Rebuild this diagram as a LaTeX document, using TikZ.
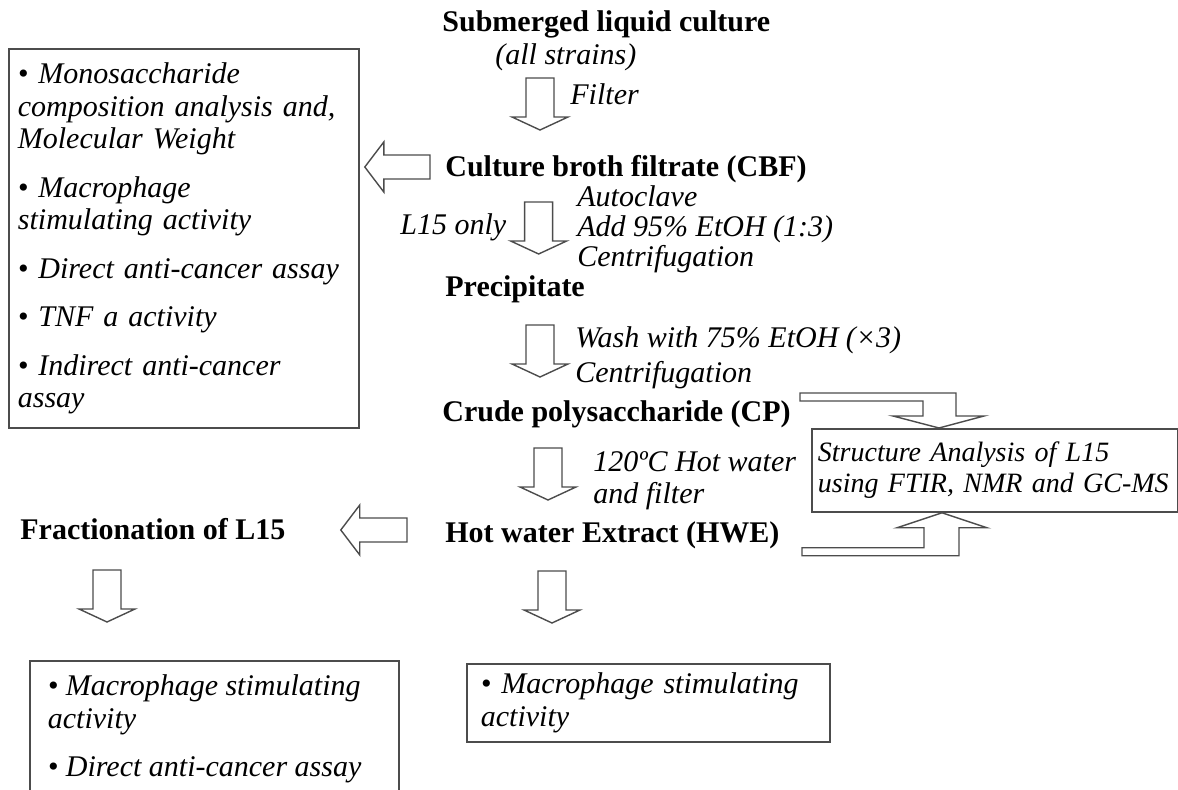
\documentclass[tikz,border=0pt]{standalone}
\usepackage{fontspec}
\setmainfont{Liberation Serif}
\usetikzlibrary{positioning,calc}

\newcommand{\bodysize}{\fontsize{15}{16.25}\selectfont}
% hollow block arrows
% down: #1 = middle of the tail
\newcommand{\blockdown}[1]{%
  \draw[blockarrow] let \p1=(#1) in
    (\x1-7pt,\y1) -- (\x1+7pt,\y1) -- (\x1+7pt,\y1-19.5pt) -- (\x1+14pt,\y1-19.5pt)
    -- (\x1,\y1-26pt) -- (\x1-14pt,\y1-19.5pt) -- (\x1-7pt,\y1-19.5pt) -- cycle;}
% left: #1 = middle of the tail, #2 = tip (only its x is used)
\newcommand{\blockleft}[2]{%
  \draw[blockarrow] let \p1=(#1), \p2=(#2) in
    (\x1,\y1+6pt) -- (\x2+9.5pt,\y1+6pt) -- (\x2+9.5pt,\y1+12.5pt) -- (\x2,\y1)
    -- (\x2+9.5pt,\y1-12.5pt) -- (\x2+9.5pt,\y1-6pt) -- (\x1,\y1-6pt) -- cycle;}

\begin{document}
\begin{tikzpicture}[x=0.5pt,y=-0.5pt,
stage/.style={font=\bodysize\bfseries,anchor=west,inner sep=0pt,text height=10.5pt,text depth=3pt},
note/.style={font=\bodysize\itshape,anchor=west,inner sep=0pt,text height=10.5pt,text depth=3pt},
notes/.style={font=\bodysize\itshape,anchor=north west,inner sep=0pt,align=left},
listbox/.style={draw=black!70,line width=0.9pt,font=\bodysize\itshape,anchor=north west,align=left},
blockarrow/.style={draw=black!70,line width=0.7pt,fill=white,line join=miter}]
\useasboundingbox (0,0) rectangle (1178,790);

% main line of the process
\node[stage] (culture) at (442,24) {Submerged liquid culture};
\node[note] (strains) at (495,57) {(all strains)};
\node[note] (filter) at (570,97) {Filter};
\node[stage] (cbf) at (445,169) {Culture broth filtrate (CBF)};
\node[note] (l15only) at (400,227) {L15 only};
\node[notes,font=\fontsize{15}{15}\selectfont\itshape] (autoclave) at (577,185.5)
    {Autoclave\\ Add 95\% EtOH (1:3)\\ Centrifugation};
\node[stage] (precip) at (445,289) {Precipitate};
\node[notes,font=\fontsize{15}{17.5}\selectfont\itshape] (wash) at (575,326.5)
    {Wash with 75\% EtOH (×3)\\ Centrifugation};
\node[stage] (cp) at (442,414) {Crude polysaccharide (CP)};
\node[notes,font=\fontsize{15}{16}\selectfont\itshape] (hot) at (593,451.5)
    {120ºC Hot water\\ and filter};
\node[stage] (hwe) at (445,535) {Hot water Extract (HWE)};
\node[stage] (frac) at (20,532) {Fractionation of L15};

% boxes with the assays
\node[listbox,minimum width=175pt,minimum height=189.5pt,text width=166pt,inner xsep=4.5pt] (assays) at (8,48) {%
\textbullet{} Monosaccharide\\ composition analysis and,\\ Molecular Weight\\[8pt]
\textbullet{} Macrophage\\ stimulating activity\\[8pt]
\textbullet{} Direct anti-cancer assay\\[8pt]
\textbullet{} TNF a activity\\[8pt]
\textbullet{} Indirect anti-cancer\\ assay};
\node[listbox,font=\fontsize{14}{15.5}\selectfont\itshape,minimum width=183pt,minimum height=41.5pt,text width=177pt,inner xsep=3pt] (struct) at (811,428)
    {\mbox{Structure Analysis of L15}\\ \mbox{using FTIR, NMR and GC-MS}};
\node[listbox,minimum height=39pt,text width=167.5pt,inner xsep=7pt] (hweassay) at (466,663)
    {\textbullet{} Macrophage stimulating\\ activity};
\node[listbox,inner xsep=9pt,inner ysep=7pt] (fracassay) at (29,660)
    {\parbox[t][80pt][t]{166.5pt}{\raggedright\textbullet{} Macrophage stimulating\\ activity\\[8pt] \textbullet{} Direct anti-cancer assay}};

% arrows
\blockdown{$(filter.west)+(-30,-19)$}
\blockleft{$(cbf.west)+(-15,-2)$}{$(assays.east |- cbf.west)+(5,-2)$}
\blockdown{$(l15only.east)+(32,-25)$}
\blockdown{$(wash.north west)+(-35,-1.5)$}
\blockdown{$(hot.north west)+(-45,-3.5)$}
\blockleft{$(hwe.west)+(-38,-5)$}{$(frac.east)+(55,-2)$}
\blockdown{$(hwe.west)+(107,36)$}
\blockdown{$(frac.west)+(87,38)$}

% bent arrows into the structure box
\draw[blockarrow] ($(struct.north west)+(128,0)$) -- ++(45,-12) -- ++(-28,0) -- ++(0,-23)
    -- ++(-156,0) -- ++(0,8) -- ++(123,0) -- ++(0,15) -- ++(-30,0) -- cycle;
\draw[blockarrow] ($(struct.south west)+(131,0)$) -- ++(45,15) -- ++(-28,0) -- ++(0,28)
    -- ++(-157,0) -- ++(0,-8) -- ++(122,0) -- ++(0,-20) -- ++(-27,0) -- cycle;
\end{tikzpicture}
\end{document}
